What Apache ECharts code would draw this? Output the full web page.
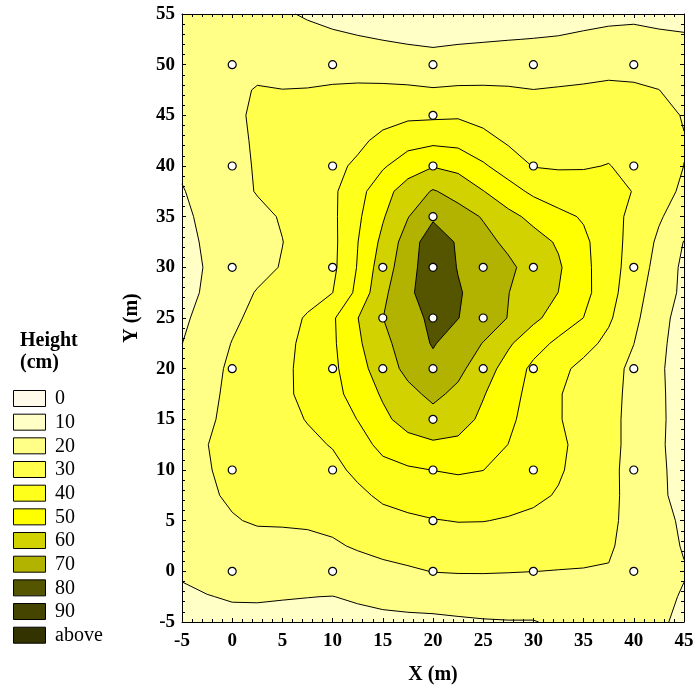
<!DOCTYPE html>
<html><head><meta charset="utf-8">
<script src="https://cdn.jsdelivr.net/npm/echarts@6/dist/echarts.min.js"></script>
<style>html,body{margin:0;padding:0;background:#fff}#c{width:697px;height:688px}</style>
</head><body><div id="c"></div>
<script>
// grid node coordinates (m)
const xValues = [-5,-2.5,0,2.5,5,7.5,10,12.5,15,17.5,20,22.5,25,27.5,30,32.5,35,37.5,40,42.5,45];
const yValues = [55,52.5,50,47.5,45,42.5,40,37.5,35,32.5,30,27.5,25,22.5,20,17.5,15,12.5,10,7.5,5,2.5,0,-2.5,-5];
// estimated height (cm) at each grid node, one row per yValues entry
const heights = [
[13,13.5,13.5,12.5,11,9.1,7.2,5.2,3.8,2.6,1.75,2.8,3.3,4.1,5.2,5.1,6.7,7.6,8.1,8.1,7.9],
[13.5,14.5,15,15,14,12.8,11.85,10.9,9.8,8.8,8.0,8.8,9.3,9.8,10.2,10.8,11.7,12.6,12.8,11.3,10.8],
[14,15.5,16.5,17.8,17,16.6,16.5,16.6,15.7,14.9,14.25,14.8,15.2,15.4,15.2,15.9,16.8,17.6,17.5,15.3,13.7],
[14,16,18.3,20.5,20.1,20.3,21,21.3,21.5,21.3,20.6,21.1,21.1,20.8,20.1,20.6,21,21.5,21.1,20.1,16.6],
[13.5,16,18.8,21,22,23.1,24.4,24.7,26.7,28.2,28.4,28.9,26.7,24.7,23.3,23.4,23.8,24.5,23.4,22.5,19.5],
[12.5,15.5,18,21,24,24.8,26.9,28,32.4,36.3,37.7,37.0,33.2,28.7,26.5,26.3,26.6,27.4,25.7,24,20.3],
[11.2,14.1,17.3,20.8,23.5,25.8,27.6,31.6,38.8,45.5,49.5,47.3,41.3,35.3,29.6,29.1,29.3,30.3,27.6,23.8,19.95],
[9.5,13.1,16.9,20.5,23.4,26.3,28.3,36.4,46.5,54.4,60.8,56.5,50.3,44,38.0,35,34.3,32.8,29.7,24.3,18],
[8.8,11.4,14.6,17.8,20.7,25,28,38.3,49.1,59.6,68.5,64,59.3,52.7,47.6,42.5,39.1,33.6,27.6,21.0,15.2],
[8.5,10.7,13.7,16.8,19.85,24.1,27.5,39.8,52.4,64.6,76,68.8,63.0,57.9,53.6,48.9,41.9,34.4,26.5,18.4,9.7],
[8,10.4,13.7,17.1,20.6,24.75,27.8,40.6,55.4,65.7,77,69.5,64.7,62,56.0,51.2,42.7,34.1,25.8,16.6,8],
[8.2,10.8,16.2,20.6,23.7,26.8,29.9,42.5,57.9,67.5,77,71,65.4,60.2,55.0,49.9,43.0,33.6,24.1,14.8,8],
[8.5,13.0,18.2,22.6,26.5,30.9,38.7,49.8,59.9,66.5,72,70.2,65,59.7,52.1,45.8,39.9,31.4,22.5,12.5,7],
[9.9,15.3,20.3,24.0,27.6,32.1,38.5,48.4,57.5,64.4,70.8,65.1,59.7,51.4,44.0,37.9,33.2,27.6,20.1,11.7,6.5],
[13.7,17.2,21.5,24.8,28.1,32.5,38.0,46.2,55.2,62.5,67,62.5,54.5,46.2,37.8,32.4,27.5,23.2,18,10.9,7],
[15.9,17.9,22.0,25.1,28.2,32.2,37.2,43.6,51.2,57.4,62.2,57.7,50.6,44,36.4,30.6,26.5,22.6,17.8,11.1,7],
[17.1,18.8,22.2,24.8,27.5,30.4,35.3,40.2,47.7,54.0,56.6,54,48.0,42,35.8,30.6,26.4,22.4,17.5,11.2,7],
[18,19.9,22.0,24.0,26.1,28.2,30.5,36.3,42.5,46.3,48.6,47.9,44.3,39.9,35.8,31.7,27.2,22.6,17.3,11,7],
[18.1,19.6,21.6,23.0,25.0,26.4,27.7,31.9,37.0,38.8,40.1,41.0,40.1,36.5,34.3,31,26.8,22.2,17.0,11.4,7],
[17.5,19,21,22.3,23.8,24.2,24.9,28.1,31.6,33.5,34.8,35.7,35.1,33.0,31.8,29.3,25.7,22,17.4,11.4,7.5],
[15.5,17.3,19.5,20.7,20.9,21.2,22.1,24.5,27.0,28.4,29.6,30.3,30.2,29.4,28.1,26.0,24.8,21.8,17.2,12.9,8.5],
[13.9,15.5,16.5,17.5,17.4,17.8,18.9,20.9,22.6,23.8,24.9,25.4,25.3,24.9,24.1,23.0,22.6,21,16.9,13.6,9.3],
[11,12.9,13.6,14.1,13.9,13.9,14.5,16.1,17.7,18.9,20.2,20.5,20.5,20.3,20.05,19.8,19.6,19.5,16.3,13.4,10.6],
[8.6,9.7,10.7,10.8,10.4,10.1,9.9,10.9,12.1,13.2,14.1,14.6,14.9,15.0,15.0,16.0,16,16.3,15,12.3,9.2],
[7,7,7.5,7.5,7.5,7.8,7.8,7.7,8,8,8,8.7,9.3,9.6,9.6,11.5,12.5,13,14,11.3,8]
];
// contour levels and legend
const levels = [10,20,30,40,50,60,70,80,90];
const legendLabels = ['0','10','20','30','40','50','60','70','80','90','above'];
const bandColors = ['#FFFAEA','#FFFFC6','#FFFF88','#FFFF4C','#FFFF1C','#FFFF00','#D2D200','#B2B200','#555500','#454500','#333300'];
// measurement points
const sampleX = [0,10,20,30,40, 20, 0,10,20,30,40, 20, 0,10,15,20,25,30,40, 15,20,25, 0,10,15,20,25,30,40, 20, 0,10,20,30,40, 20, 0,10,20,30,40];
const sampleY = [50,50,50,50,50, 45, 40,40,40,40,40, 35, 30,30,30,30,30,30,30, 25,25,25, 20,20,20,20,20,20,20, 15, 10,10,10,10,10, 5, 0,0,0,0,0];

const serif = 'Liberation Serif';
const chart = echarts.init(document.getElementById('c'), null, {renderer: 'canvas'});

function contourItem(params, api) {
  const children = [];
  const toPx = (x, y) => api.coord([x, y]);
  const fmt = p => p[0].toFixed(2) + ' ' + p[1].toFixed(2);
  const a0 = toPx(xValues[0], yValues[0]);
  const a1 = toPx(xValues[xValues.length - 1], yValues[yValues.length - 1]);
  children.push({type: 'rect', shape: {x: Math.min(a0[0], a1[0]), y: Math.min(a0[1], a1[1]),
    width: Math.abs(a1[0] - a0[0]), height: Math.abs(a1[1] - a0[1])}, style: {fill: bandColors[1]}});
  let lineD = '';
  levels.forEach((L, li) => {
    let d = '';
    for (let j = 0; j < yValues.length - 1; j++) {
      for (let i = 0; i < xValues.length - 1; i++) {
        const cs = [[i, j], [i + 1, j], [i + 1, j + 1], [i, j + 1]].map(([a, b]) => [xValues[a], yValues[b], heights[b][a]]);
        if (cs.every(c => c[2] < L)) continue;
        const out = [];
        for (let k = 0; k < 4; k++) {
          const a = cs[k], b = cs[(k + 1) % 4];
          const ia = a[2] >= L, ib = b[2] >= L;
          if (ia) out.push({p: toPx(a[0], a[1]), c: false});
          if (ia !== ib) {
            const t = (L - a[2]) / (b[2] - a[2]);
            out.push({p: toPx(a[0] + t * (b[0] - a[0]), a[1] + t * (b[1] - a[1])), c: true});
          }
        }
        d += 'M' + out.map(o => fmt(o.p)).join('L') + 'Z';
        for (let k = 0; k < out.length; k++) {
          const o1 = out[k], o2 = out[(k + 1) % out.length];
          if (o1.c && o2.c) lineD += 'M' + fmt(o1.p) + 'L' + fmt(o2.p);
        }
      }
    }
    if (d) children.push({type: 'path', shape: {pathData: d}, style: {fill: bandColors[li + 2], stroke: null}});
  });
  if (lineD) children.push({type: 'path', shape: {pathData: lineD}, style: {fill: 'none', stroke: '#000', lineWidth: 1}});
  return {type: 'group', children};
}

const tickCommon = {
  axisLine: {show: true, onZero: false, lineStyle: {color: '#000', width: 1}},
  axisTick: {show: true, inside: true, length: 4, lineStyle: {color: '#000', width: 1}},
  minorTick: {show: true, splitNumber: 5, length: 3, lineStyle: {color: '#000', width: 1}},
  splitLine: {show: false},
  z: 5
};
const labelStyle = {fontFamily: serif, fontWeight: 'bold', fontSize: 19, color: '#000'};
const nameStyle = {fontFamily: serif, fontWeight: 'bold', fontSize: 20, color: '#000'};

const graphics = [
  {type: 'text', left: 20, top: 331, style: {text: 'Height', font: 'bold 20px "Liberation Serif"', fill: '#000'}},
  {type: 'text', left: 20, top: 353, style: {text: '(cm)', font: 'bold 20px "Liberation Serif"', fill: '#000'}}
];
legendLabels.forEach((lab, i) => {
  const top = 390 + i * 23.67;
  graphics.push({type: 'rect', left: 13, top: top, shape: {width: 32, height: 16},
    style: {fill: bandColors[i], stroke: '#000', lineWidth: 1}});
  graphics.push({type: 'text', left: 55, top: top - 1, style: {text: lab, font: '20px "Liberation Serif"', fill: '#000'}});
});

chart.setOption({
  animation: false,
  backgroundColor: '#fff',
  grid: {left: 182, top: 14, width: 502, height: 608, containLabel: false, outerBoundsMode: 'none'},
  xAxis: [
    Object.assign({type: 'value', min: -5, max: 45, interval: 5, position: 'bottom',
      axisLabel: Object.assign({margin: 10}, labelStyle),
      name: 'X (m)', nameLocation: 'middle', nameGap: 43, nameTextStyle: nameStyle}, tickCommon),
    Object.assign({type: 'value', min: -5, max: 45, interval: 5, position: 'top', axisLabel: {show: false}}, tickCommon)
  ],
  yAxis: [
    Object.assign({type: 'value', min: -5, max: 55, interval: 5, position: 'left',
      axisLabel: Object.assign({margin: 7}, labelStyle),
      name: 'Y (m)', nameLocation: 'middle', nameGap: 40, nameTextStyle: nameStyle}, tickCommon),
    Object.assign({type: 'value', min: -5, max: 55, interval: 5, position: 'right', axisLabel: {show: false}}, tickCommon)
  ],
  graphic: graphics,
  series: [
    {type: 'custom', coordinateSystem: 'cartesian2d', xAxisIndex: 0, yAxisIndex: 0, silent: true, z: 1,
      data: [[20, 25]], renderItem: contourItem},
    {type: 'scatter', xAxisIndex: 0, yAxisIndex: 0, z: 3, silent: true, symbol: 'circle', symbolSize: 8,
      itemStyle: {color: '#fff', borderColor: '#000', borderWidth: 1.2, opacity: 1},
      data: sampleX.map((x, i) => [x, sampleY[i]])}
  ]
});
</script></body></html>
